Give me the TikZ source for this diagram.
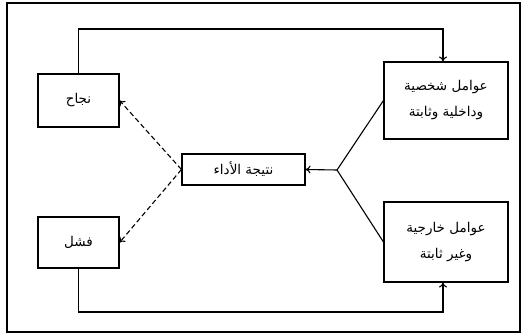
\documentclass[tikz,border=0pt]{standalone}
\usepackage{fontspec}
\newfontfamily\arabicfont[Script=Arabic]{DejaVu Sans}
\TeXXeTstate=1
\usepackage{tikz}
\usetikzlibrary{arrows.meta}

\begin{document}
\begin{tikzpicture}[x=1pt,y=-1pt,>={To[length=5pt,width=8pt]},line width=1.1pt]
\tikzset{box/.style={draw, inner sep=0pt, align=center, font=\arabicfont\fontsize{13.5}{26}\selectfont}}
\useasboundingbox (0,0) rectangle (523,334);
\draw (7,3) rectangle (520,332);
\node[box, minimum width=81pt, minimum height=53pt] (Success) at (78.5,100.5) {\beginR نجاح\endR};
\node[box, minimum width=81pt, minimum height=51pt] (Failure) at (78.5,242.5) {\beginR فشل\endR};
\node[box, minimum width=123pt, minimum height=31pt] (Result) at (243.5,169.5) {\beginR نتيجة الأداء\endR};
\node[box, minimum width=124pt, minimum height=77pt] (Internal) at (446,100.5) {\beginR عوامل شخصية\endR\\\beginR وداخلية وثابتة\endR};
\node[box, minimum width=124pt, minimum height=80pt] (External) at (446,242) {\beginR عوامل خارجية\endR\\\beginR وغير ثابتة\endR};
\coordinate (TopTurn) at (443,29);
\coordinate (BottomTurn) at (443,312);
\coordinate (Split) at (337,170);
\draw[->] (Success.north) |- (TopTurn) -- (TopTurn |- Internal.north);
\draw[->] (Failure.south) |- (BottomTurn) -- (BottomTurn |- External.south);
\draw (Internal.west) -- (Split) -- (External.west);
\draw[->] (Split) -- (Result.east);
\draw[dash pattern=on 5pt off 3pt,->] (Result.west) -- (Success.east);
\draw[dash pattern=on 5pt off 3pt,->] (Result.west) -- (Failure.east);
\end{tikzpicture}
\end{document}
